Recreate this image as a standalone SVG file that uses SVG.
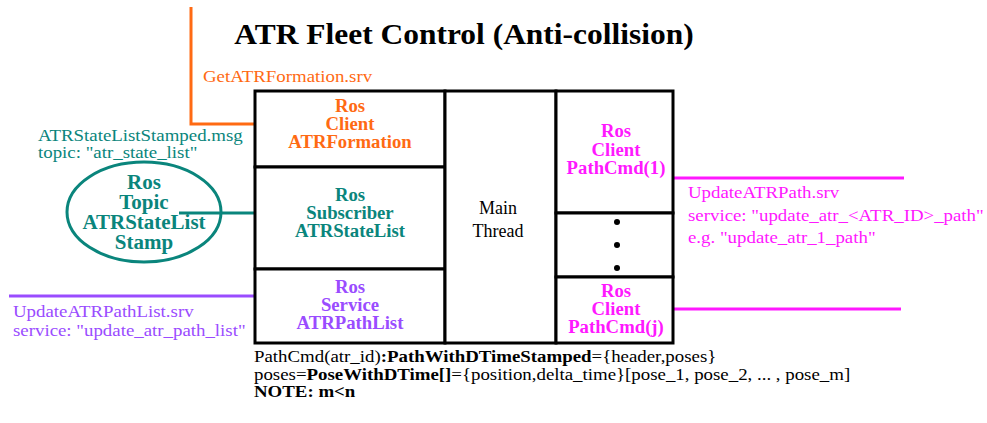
<svg xmlns="http://www.w3.org/2000/svg" width="987" height="423" viewBox="0 0 987 423">
  <style>
    text { font-family: "Liberation Serif", "Times New Roman", serif; }
    .title { font-size: 29px; font-weight: bold; fill: #000; text-anchor: middle; }
    .lbl { font-size: 17px; }
    .cell { font-size: 18px; font-weight: bold; text-anchor: middle; }
    .topic { font-size: 20px; font-weight: bold; text-anchor: middle; }
    .note { font-size: 17px; fill: #000; }
    .main { font-size: 18px; fill: #000; text-anchor: middle; }
    .orange { fill: #FF6A13; }
    .teal { fill: #0A857C; }
    .purple { fill: #9A4CFF; }
    .magenta { fill: #FF18FF; }
    .box { fill: #fff; stroke: #000; stroke-width: 3; }
    .wire { fill: none; stroke-width: 3; }
  </style>

  <text class="title" transform="translate(464 44) scale(1.085 1)">ATR Fleet Control (Anti-collision)</text>

  <!-- connectors -->
  <g id="connectors">
    <polyline class="wire" stroke="#FF6A13" points="191,7 191,124 256,124"/>
    <line class="wire" stroke="#0A857C" stroke-width="4" x1="179" y1="213" x2="257" y2="213"/>
    <line class="wire" stroke="#9A4CFF" x1="9" y1="296" x2="256" y2="296"/>
    <line class="wire" stroke="#FF18FF" x1="673" y1="178" x2="904" y2="178"/>
    <line class="wire" stroke="#FF18FF" x1="673" y1="309" x2="901" y2="309"/>
  </g>

  <!-- connector labels -->
  <g id="connector-labels">
    <text class="lbl orange" transform="translate(203 82) scale(1.11 1)">GetATRFormation.srv</text>
    <text class="lbl teal" transform="translate(38 141) scale(1.11 1)">ATRStateListStamped.msg</text>
    <text class="lbl teal" transform="translate(38 158) scale(1.11 1)">topic: "atr_state_list"</text>
    <text class="lbl purple" transform="translate(13 317) scale(1.11 1)">UpdateATRPathList.srv</text>
    <text class="lbl purple" transform="translate(13 336) scale(1.11 1)">service: "update_atr_path_list"</text>
    <text class="lbl magenta" transform="translate(688 198) scale(1.11 1)">UpdateATRPath.srv</text>
    <text class="lbl magenta" transform="translate(688 221) scale(1.11 1)">service: "update_atr_&lt;ATR_ID&gt;_path"</text>
    <text class="lbl magenta" transform="translate(688 243) scale(1.11 1)">e.g. "update_atr_1_path"</text>
  </g>

  <!-- topic node -->
  <g id="topic-atr-state-list">
    <ellipse cx="144" cy="212" rx="77" ry="50" fill="none" stroke="#0A857C" stroke-width="3"/>
    <text class="topic teal" transform="translate(144 189) scale(1.05 1)">Ros</text>
    <text class="topic teal" transform="translate(144 209) scale(1.05 1)">Topic</text>
    <text class="topic teal" transform="translate(144 229) scale(1.05 1)">ATRStateList</text>
    <text class="topic teal" transform="translate(144 249) scale(1.05 1)">Stamp</text>
  </g>

  <!-- fleet control node cells -->
  <g id="client-atr-formation">
    <rect class="box" x="255" y="91" width="190" height="76"/>
    <text class="cell orange" transform="translate(350 112) scale(1.04 1)">Ros</text>
    <text class="cell orange" transform="translate(350 130) scale(1.04 1)">Client</text>
    <text class="cell orange" transform="translate(350 148) scale(1.04 1)">ATRFormation</text>
  </g>
  <g id="subscriber-atr-state-list">
    <rect class="box" x="255" y="167" width="190" height="102"/>
    <text class="cell teal" transform="translate(350 201) scale(1.04 1)">Ros</text>
    <text class="cell teal" transform="translate(350 219) scale(1.04 1)">Subscriber</text>
    <text class="cell teal" transform="translate(350 237) scale(1.04 1)">ATRStateList</text>
  </g>
  <g id="service-atr-path-list">
    <rect class="box" x="255" y="269" width="190" height="74"/>
    <text class="cell purple" transform="translate(350 293) scale(1.04 1)">Ros</text>
    <text class="cell purple" transform="translate(350 311) scale(1.04 1)">Service</text>
    <text class="cell purple" transform="translate(350 329) scale(1.04 1)">ATRPathList</text>
  </g>
  <g id="main-thread">
    <rect class="box" x="445" y="91" width="111" height="252"/>
    <text class="main" x="498" y="214">Main</text>
    <text class="main" x="498" y="237">Thread</text>
  </g>
  <g id="client-path-cmd-1">
    <rect class="box" x="556" y="91" width="117" height="122"/>
    <text class="cell magenta" transform="translate(616 137) scale(1.04 1)">Ros</text>
    <text class="cell magenta" transform="translate(616 156) scale(1.04 1)">Client</text>
    <text class="cell magenta" transform="translate(616 174) scale(1.04 1)">PathCmd(1)</text>
  </g>
  <g id="client-path-cmd-ellipsis">
    <rect class="box" x="556" y="213" width="117" height="64"/>
    <circle cx="617" cy="222" r="3" fill="#000"/>
    <circle cx="617" cy="245" r="3" fill="#000"/>
    <circle cx="617" cy="268" r="3" fill="#000"/>
  </g>
  <g id="client-path-cmd-j">
    <rect class="box" x="556" y="277" width="117" height="66"/>
    <text class="cell magenta" transform="translate(616 297) scale(1.04 1)">Ros</text>
    <text class="cell magenta" transform="translate(616 315) scale(1.04 1)">Client</text>
    <text class="cell magenta" transform="translate(616 333) scale(1.04 1)">PathCmd(j)</text>
  </g>

  <!-- message notes -->
  <g id="message-notes">
    <text class="note" transform="translate(254 362) scale(1.11 1)">PathCmd(atr_id)<tspan font-weight="bold">:PathWithDTimeStamped</tspan>={header,poses}</text>
    <text class="note" transform="translate(254 380) scale(1.11 1)">poses=<tspan font-weight="bold">PoseWithDTime[]</tspan>={position,delta_time}[pose_1, pose_2, ... , pose_m]</text>
    <text class="note" transform="translate(254 397) scale(1.11 1)" font-weight="bold">NOTE: m&lt;n</text>
  </g>
</svg>
